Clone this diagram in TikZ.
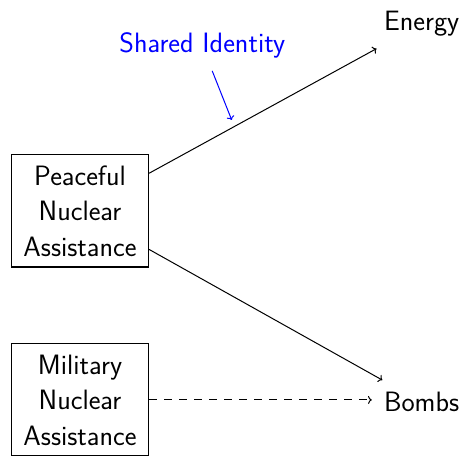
\documentclass[tikz,border=0pt]{standalone}
\usetikzlibrary{arrows.meta}
\begin{document}
\begin{tikzpicture}[x=1pt,y=1pt,
  every node/.style={font=\fontsize{28pt}{35.5pt}\selectfont\sffamily},
  box/.style={draw,line width=1.1pt,align=center,inner xsep=12pt,inner ysep=10.7pt},
  goal/.style={inner sep=12pt},
  conn/.style={line width=1pt,->},
  lbl/.style={text=blue,inner sep=12pt}]
\useasboundingbox (0,0) rectangle (465,455);
\node[box] (p) at (80,244.1) {Peaceful\\Nuclear\\Assistance};
\node[box] (m) at (80,55.1) {Military\\Nuclear\\Assistance};
\node[goal,anchor=base] (e) at (421.7,424.3) {Energy};
\node[goal,anchor=base] (b) at (421.6,43.3) {Bombs};
\node[lbl,anchor=base] (si) at (202.3,402) {Shared Identity};
\coordinate (sit) at (231.7,335);
\draw[conn] (p) -- (e);
\draw[conn] (p) -- (b);
\draw[conn,dash pattern=on 7.5pt off 7.5pt] (m.east) -- (m.east -| b.west);
\draw[conn,blue] (si) -- (sit);
\end{tikzpicture}
\end{document}
